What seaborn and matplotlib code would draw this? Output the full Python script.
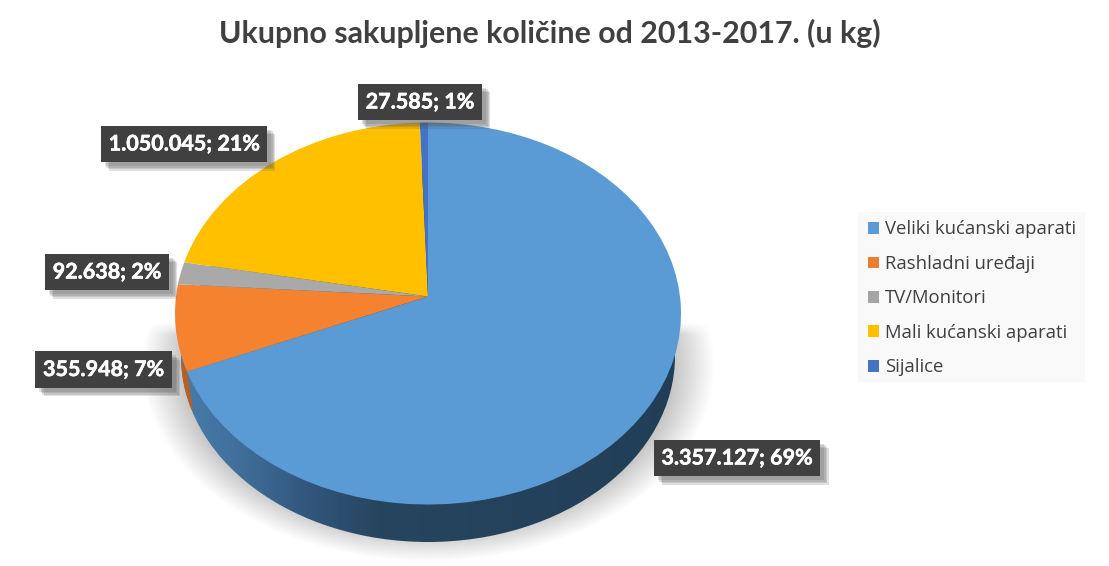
import matplotlib
matplotlib.use('Agg')
import matplotlib.pyplot as plt
import matplotlib.patheffects as pe
from matplotlib.colors import LinearSegmentedColormap, to_rgb
from matplotlib.patches import Ellipse, Patch, Polygon, Rectangle
from matplotlib.transforms import Transform
import numpy as np
import seaborn as sns

categories = ['Veliki kućanski aparati', 'Rashladni uređaji', 'TV/Monitori',
              'Mali kućanski aparati', 'Sijalice']
values = [3357127, 355948, 92638, 1050045, 27585]
percents = [69, 7, 2, 21, 1]

top_colors = ['#5b9bd5', '#f5822f', '#a9a9a9', '#ffc000', '#4472c4']
legend_colors = ['#5b9bd5', '#ed7d31', '#a5a5a5', '#ffc000', '#4472c4']

# centres of the label boxes, in pixels
label_pos = [(737, 458), (103.5, 369.5), (107, 272), (184, 144), (420, 102)]

# pie geometry in pixels (the pie lies tilted, so the centre is not mid-ellipse)
CX, CY = 428, 296.5
RX, RY, TILT = 252, 189.5, 0.089

sns.set_theme(style='white')
plt.rcParams['font.family'] = ['Lato', 'DejaVu Sans']


class Tilted(Transform):
    input_dims = 2
    output_dims = 2

    def transform_non_affine(self, xy):
        xy = np.asarray(xy, dtype=float)
        w = 1 + TILT * xy[:, 1]
        return np.column_stack((CX + RX * xy[:, 0] / w, CY - RY * xy[:, 1] / w))


fig = plt.figure(figsize=(11.09, 5.66), dpi=100)
ax = fig.add_axes([0, 0, 1, 1])

wedges, _ = ax.pie(values, colors=sns.color_palette(top_colors), startangle=90,
                   counterclock=False, wedgeprops={'linewidth': 0, 'zorder': 3})
tilt = Tilted()
for w in wedges:
    w.set_transform(tilt + ax.transData)

ax.set_aspect('auto')
ax.set_xlim(0, 1109)
ax.set_ylim(566, 0)
ax.axis('off')

# soft shadow under the pie
yy, xx = np.mgrid[0:566, 0:1109]
r = np.sqrt(((xx - 428) / 286) ** 2 + ((yy - 365) / 196) ** 2)
alpha = np.clip((1 - r) / 0.14, 0, 1)
alpha *= np.clip((yy - 322) / 12, 0, 1)
shadow = np.zeros((566, 1109, 4))
shadow[..., :3] = to_rgb('#c6c6c6')
shadow[..., 3] = alpha
ax.imshow(shadow, extent=(0, 1109, 566, 0), aspect='auto', zorder=0)

# side of the pie
rim = Ellipse((428, 356), 494, 372, facecolor='none', edgecolor='none', zorder=1)
ax.add_patch(rim)
side_cmap = LinearSegmentedColormap.from_list(
    'side', [(0, '#4a7dac'), (0.12, '#41719d'), (0.25, '#34597f'), (0.40, '#26455f'), (1, '#223e57')])
side = ax.imshow(np.linspace(0, 1, 600)[None, :], cmap=side_cmap, extent=(170, 690, 566, 100),
                 aspect='auto', zorder=1)
side.set_clip_path(rim)

# the orange part of the side, at the left end of the blue slice
theta = np.pi / 2 - 2 * np.pi * values[0] / sum(values)
edge_x, edge_y = tilt.transform_non_affine(np.array([[np.cos(theta), np.sin(theta)]]))[0]
sliver = Polygon([(150, 300), (edge_x, edge_y), (edge_x + 6, edge_y + 38), (150, edge_y + 38)],
                 facecolor='#b85f20', edgecolor='none', zorder=2)
ax.add_patch(sliver)
sliver.set_clip_path(rim)

soft = [pe.SimplePatchShadow(offset=(o, -o), shadow_rgbFace='#555555', alpha=0.18)
        for o in (6, 5, 4, 3)] + [pe.Normal()]

for val, pct, (x, y) in zip(values, percents, label_pos):
    text = f'{val:,}'.replace(',', '.') + f'; {pct}%'
    t = ax.text(x, y, text, ha='center', va='center', color='white', fontsize=15.5,
                fontweight='bold', zorder=6,
                path_effects=[pe.withStroke(linewidth=0.4, foreground='white')],
                bbox=dict(boxstyle='square,pad=0.36', facecolor='#404040', edgecolor='none',
                          linewidth=0))
    t.get_bbox_patch().set_path_effects(soft)

fig.text(549.5 / 1109, 1 - 33.5 / 566, 'Ukupno sakupljene količine od 2013-2017. (u kg)',
         ha='center', va='center', fontsize=21.9, fontweight='bold', color='#404040')

# legend background is a plain rectangle so it can sit exactly
ax.add_patch(Rectangle((858, 212), 227, 170, facecolor='#f9f9f9', edgecolor='none', zorder=4))
handles = [Patch(facecolor=c, edgecolor='none', label=n) for c, n in zip(legend_colors, categories)]
leg = ax.legend(handles=handles, loc='upper left', bbox_to_anchor=(868, 220.5),
                bbox_transform=ax.transData, prop={'family': 'Open Sans', 'size': 13.3},
                labelcolor='#404040', frameon=False, handlelength=0.6, handleheight=0.6,
                handletextpad=0.32, labelspacing=0.89, borderaxespad=0, borderpad=0)
leg.set_zorder(5)

plt.savefig('out.png', dpi=100)
plt.close()
